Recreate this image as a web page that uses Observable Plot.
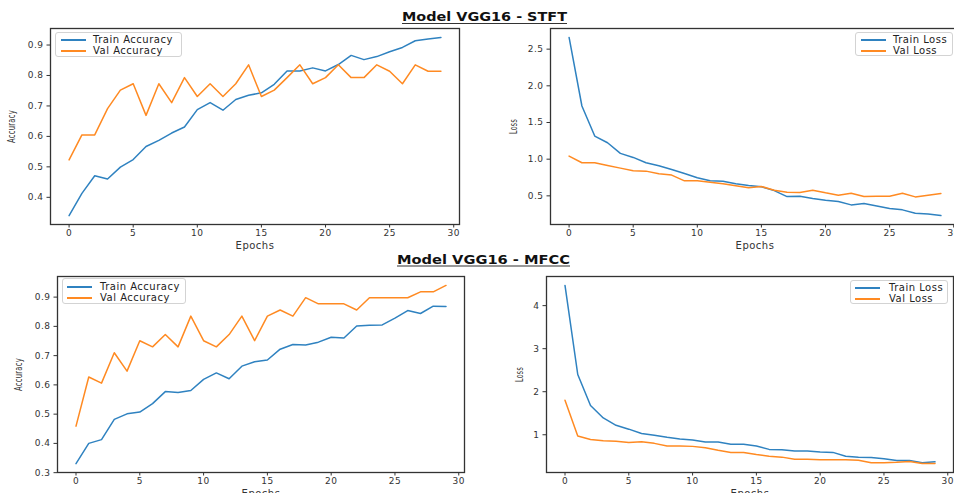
<!DOCTYPE html>
<html><head><meta charset="utf-8">
<script src="https://cdn.jsdelivr.net/npm/d3@7"></script>
<script src="https://cdn.jsdelivr.net/npm/@observablehq/plot@0.6"></script>
<style>
html,body{margin:0;padding:0;background:#fff;overflow:hidden}
#fig{position:relative;width:954px;height:493px;overflow:hidden;font-family:"DejaVu Sans",sans-serif;background:#fff}
.panel{position:absolute}
.legend{position:absolute;border:1px solid #d3d3d3;border-radius:3px;background:rgba(255,255,255,0.85);box-sizing:border-box;font:10px "DejaVu Sans",sans-serif;letter-spacing:0.5px;color:#222}
.legend .row{position:absolute;height:12px;white-space:nowrap;line-height:12px}
.legend .sw{position:absolute;width:25px;height:2px}
.legend .lb{position:absolute;top:0}
#titles{position:absolute;left:0;top:0;pointer-events:none}
</style>
</head><body>
<div id="fig"></div>
<script>
// ---- data ----
const epochs = [0,1,2,3,4,5,6,7,8,9,10,11,12,13,14,15,16,17,18,19,20,21,22,23,24,25,26,27,28,29];
const xTicks = [0,5,10,15,20,25,30];

const stftTrainAcc = [0.340,0.413,0.471,0.460,0.499,0.524,0.567,0.587,0.611,0.631,0.688,0.711,0.686,0.721,0.735,0.743,0.771,0.815,0.815,0.825,0.815,0.836,0.866,0.852,0.862,0.878,0.892,0.914,0.920,0.925];
const stftValAcc   = [0.523,0.605,0.605,0.691,0.752,0.773,0.669,0.773,0.711,0.793,0.731,0.773,0.731,0.773,0.835,0.731,0.752,0.793,0.835,0.773,0.793,0.835,0.793,0.793,0.835,0.814,0.773,0.835,0.814,0.814];
const stftTrainLoss = [2.66,1.725,1.315,1.224,1.079,1.024,0.951,0.910,0.860,0.805,0.746,0.705,0.700,0.664,0.641,0.623,0.572,0.490,0.495,0.464,0.441,0.423,0.377,0.395,0.363,0.327,0.309,0.263,0.254,0.231];
const stftValLoss   = [1.042,0.951,0.951,0.915,0.878,0.842,0.837,0.801,0.783,0.705,0.705,0.687,0.664,0.637,0.609,0.628,0.577,0.550,0.546,0.577,0.541,0.509,0.536,0.490,0.495,0.495,0.536,0.486,0.509,0.532];

const mfccTrainAcc = [0.331,0.400,0.413,0.482,0.501,0.507,0.536,0.577,0.574,0.581,0.619,0.641,0.621,0.664,0.679,0.685,0.722,0.738,0.736,0.746,0.763,0.760,0.801,0.804,0.805,0.828,0.854,0.844,0.869,0.868];
const mfccValAcc   = [0.459,0.627,0.606,0.710,0.647,0.751,0.730,0.772,0.730,0.835,0.751,0.730,0.772,0.835,0.751,0.835,0.856,0.835,0.898,0.877,0.877,0.877,0.856,0.898,0.898,0.898,0.898,0.918,0.918,0.940];
const mfccTrainLoss = [4.47,2.40,1.68,1.39,1.22,1.13,1.03,0.99,0.94,0.90,0.88,0.83,0.83,0.78,0.78,0.74,0.66,0.65,0.62,0.62,0.60,0.59,0.50,0.48,0.47,0.44,0.40,0.40,0.35,0.37];
const mfccValLoss   = [1.80,0.97,0.89,0.86,0.85,0.82,0.84,0.80,0.74,0.74,0.73,0.70,0.64,0.59,0.59,0.54,0.50,0.48,0.43,0.43,0.42,0.42,0.42,0.41,0.35,0.35,0.36,0.38,0.33,0.33];

const stftAccTicks = [0.4,0.5,0.6,0.7,0.8,0.9];
const stftLossTicks = [0.5,1.0,1.5,2.0,2.5];
const mfccAccTicks = [0.3,0.4,0.5,0.6,0.7,0.8,0.9];
const mfccLossTicks = [1,2,3,4];

const titles = ["Model VGG16 - STFT", "Model VGG16 - MFCC"];
const accLabels = ["Train Accuracy", "Val Accuracy"];
const lossLabels = ["Train Loss", "Val Loss"];

const BLUE = "#2f82c0", ORANGE = "#ff8a22", INK = "#333";

const fig = document.getElementById("fig");

function padDomain(a, b) {
  const lo = Math.min(d3.min(a), d3.min(b)), hi = Math.max(d3.max(a), d3.max(b));
  const m = (hi - lo) * 0.05;
  return [lo - m, hi + m];
}

function panel(o) {
  const plot = Plot.plot({
    width: o.width, height: o.height,
    marginLeft: o.ml, marginRight: o.mr, marginTop: o.mt, marginBottom: o.mb,
    style: {fontFamily: "DejaVu Sans", fontSize: "9px", color: INK, letterSpacing: "0.5px", background: "transparent", overflow: "visible"},
    x: {domain: [-1.45, 30.45]},
    y: {domain: padDomain(o.train, o.val)},
    marks: [
      Plot.lineY(o.train, {x: (d, i) => epochs[i], stroke: BLUE, strokeWidth: 1.5}),
      Plot.lineY(o.val, {x: (d, i) => epochs[i], stroke: ORANGE, strokeWidth: 1.5}),
      Plot.axisX({ticks: xTicks, tickSize: 3.5, tickPadding: 2, tickFormat: d => String(d), label: "Epochs", labelAnchor: "center", labelArrow: "none", labelOffset: o.xlo}),
      Plot.axisY({ticks: o.yTicks, tickSize: 3.5, tickPadding: 3.5, tickFormat: o.yFmt, label: o.yLabel, labelAnchor: "center", labelArrow: "none", labelOffset: o.ylo}),
      Plot.frame({stroke: INK, strokeWidth: 1.3})
    ]
  });
  plot.classList.add("panel");
  plot.style.left = o.left + "px";
  plot.style.top = o.top + "px";
  const xl = plot.querySelector('[aria-label="x-axis label"] text');
  if (xl) { xl.setAttribute("font-size", "10"); }
  const yl = plot.querySelector('[aria-label="y-axis label"] text');
  if (yl) { yl.setAttribute("font-size", "11"); yl.setAttribute("textLength", o.yLen); yl.setAttribute("lengthAdjust", "spacingAndGlyphs"); }
  fig.appendChild(plot);

  const lg = document.createElement("div");
  lg.className = "legend";
  Object.assign(lg.style, {left: o.lg.x + "px", top: o.lg.y + "px", width: o.lg.w + "px", height: o.lg.h + "px"});
  o.labels.forEach((lab, i) => {
    const row = document.createElement("div");
    row.className = "row";
    row.style.top = (o.lg.r0 + i * 11 - 6) + "px";
    row.style.left = "0px";
    const sw = document.createElement("div");
    sw.className = "sw";
    sw.style.background = i === 0 ? BLUE : ORANGE;
    sw.style.left = o.lg.sx + "px";
    sw.style.top = "5px";
    const lb = document.createElement("div");
    lb.className = "lb";
    lb.style.left = o.lg.tx + "px";
    lb.textContent = lab;
    row.appendChild(sw); row.appendChild(lb);
    lg.appendChild(row);
  });
  fig.appendChild(lg);
}

const f1 = d3.format(".1f");
panel({left: 0, top: 0, width: 477, height: 250, ml: 50, mr: 18, mt: 28, mb: 26,
  train: stftTrainAcc, val: stftValAcc, yTicks: stftAccTicks, yFmt: f1, yLabel: "Accuracy", yLen: 33, ylo: 43, xlo: 24,
  labels: accLabels, lg: {x: 55, y: 32, w: 127, h: 25, r0: 7, sx: 5, tx: 37}});
panel({left: 477, top: 0, width: 483, height: 250, ml: 73, mr: 1, mt: 28, mb: 26,
  train: stftTrainLoss, val: stftValLoss, yTicks: stftLossTicks, yFmt: f1, yLabel: "Loss", yLen: 15, ylo: 41, xlo: 24,
  labels: lossLabels, lg: {x: 855, y: 32, w: 98, h: 24, r0: 7, sx: 5, tx: 37}});
panel({left: 0, top: 250, width: 477, height: 243, ml: 57, mr: 13, mt: 26, mb: 21,
  train: mfccTrainAcc, val: mfccValAcc, yTicks: mfccAccTicks, yFmt: f1, yLabel: "Accuracy", yLen: 33, ylo: 43, xlo: 24,
  labels: accLabels, lg: {x: 62, y: 278, w: 124, h: 26, r0: 8, sx: 4, tx: 37}});
panel({left: 477, top: 250, width: 477, height: 243, ml: 69, mr: 1, mt: 26, mb: 21,
  train: mfccTrainLoss, val: mfccValLoss, yTicks: mfccLossTicks, yFmt: d3.format("d"), yLabel: "Loss", yLen: 15, ylo: 31, xlo: 24,
  labels: lossLabels, lg: {x: 850, y: 280, w: 98, h: 24, r0: 7, sx: 4, tx: 38}});

// titles
const ns = "http://www.w3.org/2000/svg";
const ts = document.createElementNS(ns, "svg");
ts.setAttribute("id", "titles");
ts.setAttribute("width", 954); ts.setAttribute("height", 493);
[[titles[0], 484.5, 21, 165], [titles[1], 483.5, 263.5, 173]].forEach(([t, cx, by, len]) => {
  const tx = document.createElementNS(ns, "text");
  tx.setAttribute("x", cx - len / 2); tx.setAttribute("y", by);
  tx.setAttribute("font-family", "DejaVu Sans"); tx.setAttribute("font-weight", "bold");
  tx.setAttribute("font-size", "11.5"); tx.setAttribute("fill", "#111");
  tx.setAttribute("textLength", len); tx.setAttribute("lengthAdjust", "spacingAndGlyphs");
  tx.textContent = t;
  ts.appendChild(tx);
  const ln = document.createElementNS(ns, "line");
  ln.setAttribute("x1", cx - len / 2); ln.setAttribute("x2", cx + len / 2);
  ln.setAttribute("y1", by + 2.5); ln.setAttribute("y2", by + 2.5);
  ln.setAttribute("stroke", "#333"); ln.setAttribute("stroke-width", 1.2);
  ts.appendChild(ln);
});
fig.appendChild(ts);
</script>
</body></html>
